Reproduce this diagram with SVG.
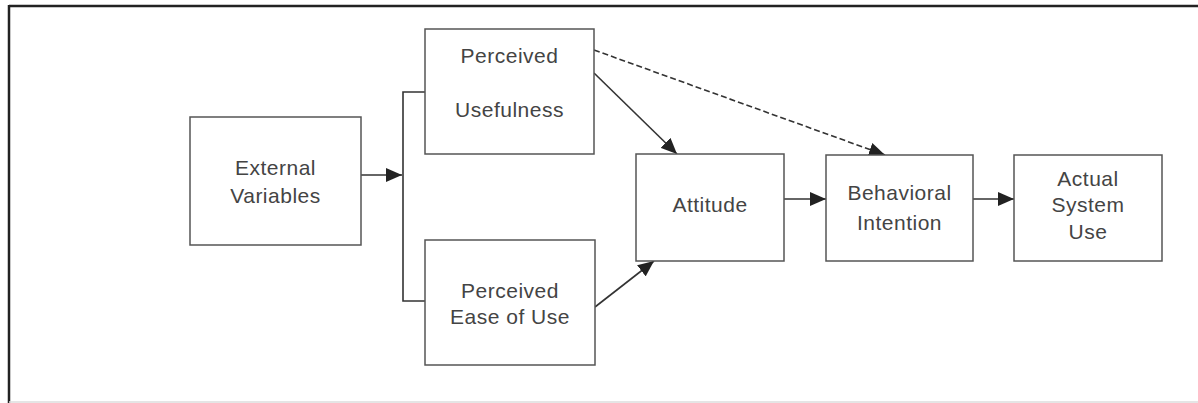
<svg xmlns="http://www.w3.org/2000/svg" width="1198" height="403" viewBox="0 0 1198 403">
<style>
.box{fill:#fff;stroke:#555;stroke-width:1.5}
.t{font-family:"Liberation Sans",Arial,sans-serif;font-size:21px;fill:#444;text-anchor:middle;letter-spacing:0.5px}
.c{stroke:#333;stroke-width:1.6;fill:none}
</style>
<defs>
<marker id="ah" viewBox="0 0 16 14" refX="16" refY="7" markerWidth="16" markerHeight="14" markerUnits="userSpaceOnUse" orient="auto">
<path d="M0,0 L16,7 L0,14 Z" fill="#222"/>
</marker>
</defs>
<rect width="1198" height="403" fill="#fff"/>
<g id="frame">
<line x1="9" y1="6" x2="1198" y2="6" stroke="#222" stroke-width="2.5"/>
<line x1="9" y1="5" x2="9" y2="403" stroke="#222" stroke-width="2.5"/>
<line x1="9" y1="402" x2="1198" y2="402" stroke="#ddd" stroke-width="1.5"/>
</g>
<g id="connectors">
<line class="c" x1="361" y1="175" x2="402" y2="175" marker-end="url(#ah)"/>
<polyline class="c" points="425,92 403,92 403,301 425,301"/>
<line class="c" x1="594" y1="73" x2="677" y2="154" marker-end="url(#ah)"/>
<line class="c" x1="594" y1="50" x2="885" y2="155" stroke-dasharray="6,3" marker-end="url(#ah)"/>
<line class="c" x1="595" y1="307" x2="654" y2="261" marker-end="url(#ah)"/>
<line class="c" x1="784" y1="199" x2="826" y2="199" marker-end="url(#ah)"/>
<line class="c" x1="973" y1="199" x2="1014" y2="199" marker-end="url(#ah)"/>
</g>
<g id="external-variables">
<rect class="box" x="190" y="117" width="171" height="128"/>
<text class="t" x="275.5" y="175">External</text>
<text class="t" x="275.5" y="203">Variables</text>
</g>
<g id="perceived-usefulness">
<rect class="box" x="425" y="29" width="169" height="125"/>
<text class="t" x="509.5" y="63">Perceived</text>
<text class="t" x="509.5" y="117">Usefulness</text>
</g>
<g id="perceived-ease-of-use">
<rect class="box" x="425" y="240" width="170" height="125"/>
<text class="t" x="510" y="298">Perceived</text>
<text class="t" x="510" y="324">Ease of Use</text>
</g>
<g id="attitude">
<rect class="box" x="636" y="154" width="148" height="107"/>
<text class="t" x="710" y="212">Attitude</text>
</g>
<g id="behavioral-intention">
<rect class="box" x="826" y="155" width="147" height="106"/>
<text class="t" x="899.5" y="200">Behavioral</text>
<text class="t" x="899.5" y="230">Intention</text>
</g>
<g id="actual-system-use">
<rect class="box" x="1014" y="155" width="148" height="106"/>
<text class="t" x="1088" y="186">Actual</text>
<text class="t" x="1088" y="212">System</text>
<text class="t" x="1088" y="239">Use</text>
</g>
</svg>
